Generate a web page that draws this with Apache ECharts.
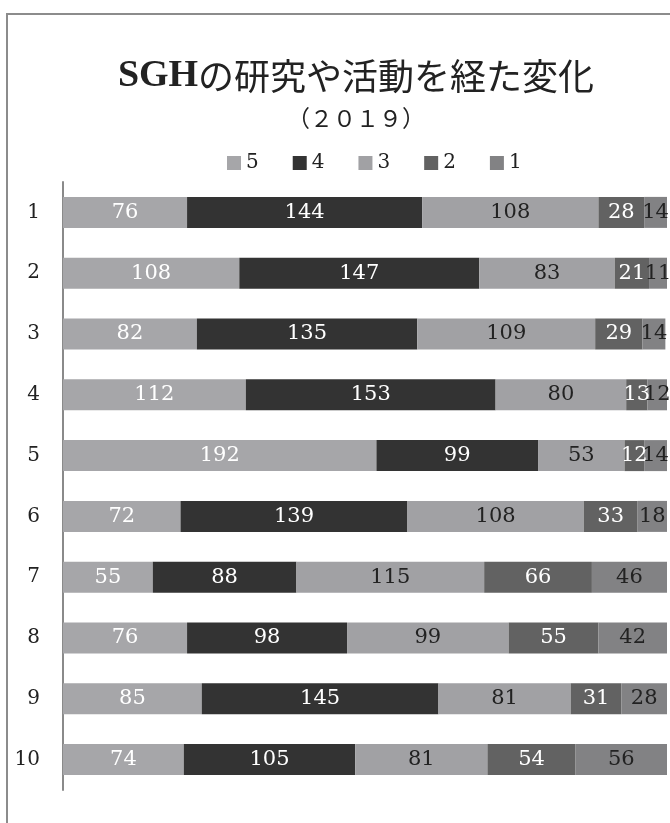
<!DOCTYPE html>
<html>
<head>
<meta charset="utf-8">
<script src="https://cdn.jsdelivr.net/npm/echarts@6/dist/echarts.min.js"></script>
<style>
  html, body { margin: 0; padding: 0; background: #fff; }
  #chart { width: 670px; height: 823px; }
</style>
</head>
<body>
<div id="chart"></div>
<script>
// Rows (questions 1–10) and response counts per rating level
const categories = ['1', '2', '3', '4', '5', '6', '7', '8', '9', '10'];
const seriesNames = ['5', '4', '3', '2', '1'];
const rating5 = [76, 108, 82, 112, 192, 72, 55, 76, 85, 74];
const rating4 = [144, 147, 135, 153, 99, 139, 88, 98, 145, 105];
const rating3 = [108, 83, 109, 80, 53, 108, 115, 99, 81, 81];
const rating2 = [28, 21, 29, 13, 12, 33, 66, 55, 31, 54];
const rating1 = [14, 11, 14, 12, 14, 18, 46, 42, 28, 56];

const values = [rating5, rating4, rating3, rating2, rating1];
const colors = ['#a6a6a9', '#333333', '#a1a1a4', '#626262', '#828284'];
const labelColors = ['#ffffff', '#ffffff', '#222222', '#ffffff', '#222222'];

const serif = "'DejaVu Serif', 'Liberation Serif', serif";
const titleSerif = "'Liberation Serif', 'DejaVu Serif', serif";
const cjk = "'Noto Sans CJK JP', sans-serif";

const chart = echarts.init(document.getElementById('chart'));

chart.setOption({
  animation: false,
  backgroundColor: '#ffffff',
  graphic: [{
    type: 'rect',
    shape: { x: 7, y: 14, width: 720, height: 860 },
    style: { fill: 'none', stroke: '#8c8c8c', lineWidth: 2 },
    silent: true
  }],
  title: [{
    text: '{a|SGH}{b|の研究や活動を経た変化}',
    left: 356,
    top: 57,
    padding: 0,
    textAlign: 'center',
    textStyle: {
      rich: {
        a: { fontFamily: titleSerif, fontWeight: 'bold', fontSize: 38, color: '#222' },
        b: { fontFamily: cjk, fontWeight: 'normal', fontSize: 36, color: '#222' }
      }
    }
  }, {
    text: '（２０１９）',
    left: 356,
    top: 107,
    padding: 0,
    textAlign: 'center',
    textStyle: { fontFamily: cjk, fontWeight: 'normal', fontSize: 23, color: '#222' }
  }],
  legend: {
    data: seriesNames,
    left: 227,
    top: 153,
    padding: 0,
    itemWidth: 14,
    itemHeight: 14,
    itemGap: 34,
    icon: 'rect',
    textStyle: { fontFamily: serif, fontSize: 20, color: '#222' }
  },
  grid: { left: 63, right: 3, top: 182, height: 608, containLabel: false },
  xAxis: {
    type: 'value',
    min: 0,
    max: 370,
    show: false
  },
  yAxis: {
    type: 'category',
    data: categories,
    inverse: true,
    axisLine: { show: true, lineStyle: { color: '#8a8a8a', width: 2 } },
    axisTick: { show: false },
    axisLabel: { margin: 23, fontFamily: serif, fontSize: 20, color: '#222' }
  },
  series: seriesNames.map((name, i) => ({
    name: name,
    type: 'bar',
    stack: 'total',
    barWidth: 31,
    data: values[i],
    itemStyle: { color: colors[i] },
    label: {
      show: true,
      position: 'inside',
      fontFamily: serif,
      fontSize: 21,
      color: labelColors[i]
    }
  }))
});
</script>
</body>
</html>
